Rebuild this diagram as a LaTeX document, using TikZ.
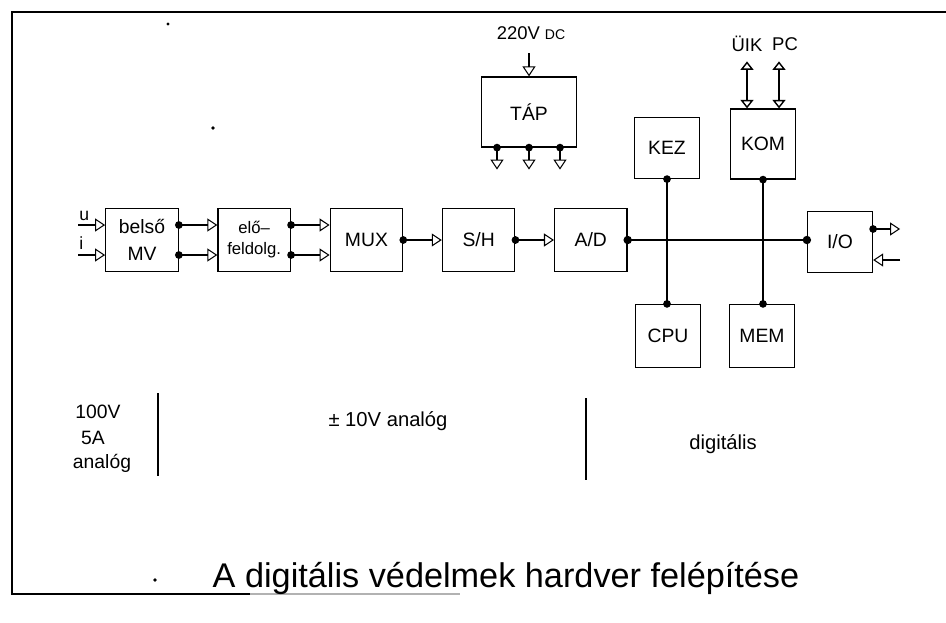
\documentclass[tikz,border=0pt]{standalone}
\usepackage{fontspec}
\setmainfont{Liberation Sans}
\usetikzlibrary{arrows.meta,calc,positioning}

\begin{document}
\begin{tikzpicture}[
  x=0.02cm, y=-0.02cm,
  blk/.style={draw, line width=0.7pt, minimum width=1.45cm, minimum height=1.26cm, inner sep=1pt, font=\fontsize{11}{15}\selectfont, align=center},
  sig/.style={-{Triangle[open, length=0.2cm, width=0.26cm]}, line width=0.6pt},
  dsig/.style={{Triangle[open, length=0.17cm, width=0.26cm]}-{Triangle[open, length=0.17cm, width=0.26cm]}, line width=0.8pt},
  bus/.style={line width=1.5pt},
  lbl/.style={inner sep=1pt, font=\fontsize{10}{12}\selectfont},
  node distance=0.77cm and 0.77cm
]
\useasboundingbox (0,0) rectangle (946,622);

% Frame
\draw[line width=1pt] (946,12) -- (12,12) -- (12,594) -- (250,594);
\draw[line width=1pt, gray!60] (250,594) -- (460,594);

% Signal chain
\node[blk] (belso) at (142,240) {belső\\MV};
\node[blk, right=of belso, font=\fontsize{9.5}{12}\selectfont] (elo) {elő--\\feldolg.};
\node[blk, right=of elo] (mux) {MUX};
\node[blk, right=of mux] (sh) {S/H};
\node[blk, right=of sh] (ad) {A/D};

% Bus side
\node[blk, minimum width=1.3cm, minimum height=1.22cm] (io) at (840,242) {I/O};
\node[blk, minimum width=1.3cm, minimum height=1.22cm] (kez) at (667,148) {KEZ};
\node[blk, minimum width=1.3cm] (cpu) at (668,336) {CPU};
\node[blk, minimum width=1.3cm, minimum height=1.4cm] (kom) at (763,144) {KOM};
\node[blk, minimum width=1.3cm] (mem) at (762,336) {MEM};
\node[blk, minimum width=1.9cm, minimum height=1.4cm] (tap) at (529,112) {TÁP};

% Inputs
\coordinate (uin) at (78,225);
\coordinate (iin) at (78,255);
\node[lbl, anchor=south west, inner sep=0pt] (ulbl) at (79,221) {u};
\node[lbl, anchor=south west, inner sep=0pt] (ilbl) at (79,250) {i};
\draw[sig] (uin) -- (uin -| belso.west);
\draw[sig] (iin) -- (iin -| belso.west);

% Links along the chain
\draw[sig] ($(belso.east)+(0,-15)$) -- ($(elo.west)+(0,-15)$);
\draw[sig] ($(belso.east)+(0,15)$) -- ($(elo.west)+(0,15)$);
\fill ($(belso.east)+(0,-15)$) circle (2.2pt);
\fill ($(belso.east)+(0,15)$) circle (2.2pt);
\draw[sig] ($(elo.east)+(0,-15)$) -- ($(mux.west)+(0,-15)$);
\draw[sig] ($(elo.east)+(0,15)$) -- ($(mux.west)+(0,15)$);
\fill ($(elo.east)+(0,-15)$) circle (2.2pt);
\fill ($(elo.east)+(0,15)$) circle (2.2pt);
\draw[sig] (mux) -- (sh);
\fill (mux.east) circle (2.2pt);
\draw[sig] (sh) -- (ad);
\fill (sh.east) circle (2.2pt);

% Bus
\draw[bus] (ad.east) -- (ad.east -| io.west);
\fill (ad.east) circle (2.4pt);
\fill (ad.east -| io.west) circle (2.4pt);
\draw[bus] (kez.south) -- (kez.south |- cpu.north);
\fill (kez.south) circle (2.2pt);
\fill (kez.south |- cpu.north) circle (2.2pt);
\draw[bus] (kom.south) -- (kom.south |- mem.north);
\fill (kom.south) circle (2.2pt);
\fill (kom.south |- mem.north) circle (2.2pt);

% I/O ports
\coordinate (ioout) at ($(io.east)+(27,-13)$);
\coordinate (ioin) at ($(io.east)+(27,18)$);
\draw[sig] ($(io.east)+(0,-13)$) -- (ioout);
\fill ($(io.east)+(0,-13)$) circle (2.2pt);
\draw[sig] (ioin) -- (ioin -| io.east);

% Supply
\node[lbl, font=\fontsize{10.5}{12}\selectfont] (dc) at (531,33) {220V {\fontsize{8}{10}\selectfont DC}};
\coordinate (dcin) at (529,53);
\draw[sig] (dcin) -- (tap.north);
\coordinate (gnd1) at ($(tap.south)+(-32,22)$);
\coordinate (gnd2) at ($(tap.south)+(0,22)$);
\coordinate (gnd3) at ($(tap.south)+(31,22)$);
\draw[sig] (gnd1 |- tap.south) -- (gnd1);
\draw[sig] (gnd2 |- tap.south) -- (gnd2);
\draw[sig] (gnd3 |- tap.south) -- (gnd3);
\fill (gnd1 |- tap.south) circle (2.2pt);
\fill (gnd2 |- tap.south) circle (2.2pt);
\fill (gnd3 |- tap.south) circle (2.2pt);

% Communication
\node[lbl, font=\fontsize{10.5}{12}\selectfont] (uik) at (747,44) {ÜIK};
\node[lbl, font=\fontsize{10.5}{12}\selectfont] (pc) at (785,44) {PC};
\coordinate (k1) at ($(kom.north)+(-16,-47)$);
\coordinate (k2) at ($(kom.north)+(16,-47)$);
\draw[dsig] (k1) -- (k1 |- kom.north);
\draw[dsig] (k2) -- (k2 |- kom.north);

% Signal levels
\node[lbl, font=\fontsize{11}{13}\selectfont] (v100) at (98,412) {100V};
\node[lbl, font=\fontsize{11}{13}\selectfont] (a5) at (93,438) {5A};
\node[lbl, font=\fontsize{11}{13}\selectfont] (ana) at (102,463) {analóg};
\draw[line width=0.9pt] (158,393) -- (158,476);
\node[lbl, font=\fontsize{11.5}{13}\selectfont] (ana10) at (388,421) {± 10V analóg};
\draw[line width=0.9pt] (586,398) -- (586,480);
\node[lbl, font=\fontsize{11.5}{13}\selectfont] (dig) at (723,444) {digitális};

% Title
\node[inner sep=1pt, font=\fontsize{19.5}{22}\selectfont] (title) at (506,578) {A digitális védelmek hardver felépítése};

% Specks
\fill (168,24) circle (0.9pt);
\fill (213,128) circle (1.1pt);
\fill (155,580) circle (1.1pt);
\end{tikzpicture}
\end{document}
